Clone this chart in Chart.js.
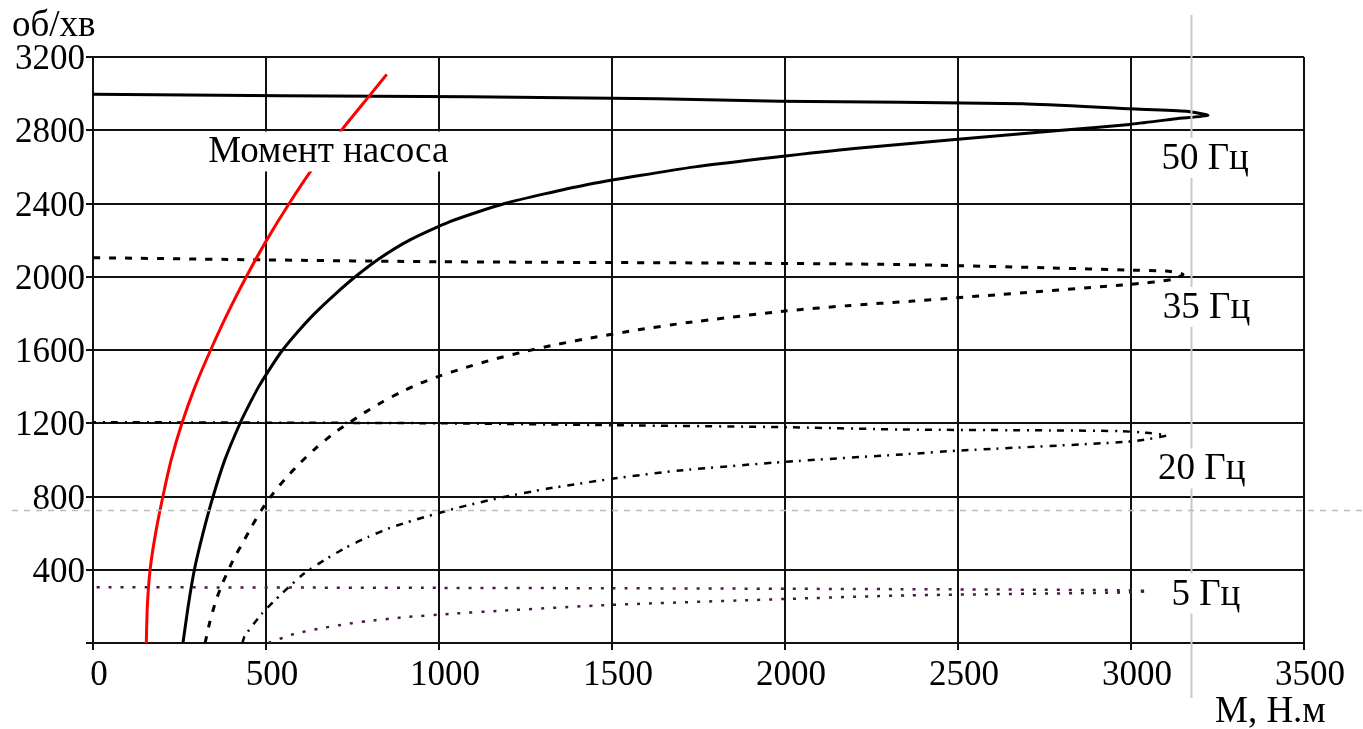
<!DOCTYPE html>
<html>
<head>
<meta charset="utf-8">
<title>Механічні характеристики</title>
<script src="https://cdn.jsdelivr.net/npm/chart.js@4"></script>
<style>
  body { margin: 0; background: #fff; }
  #wrap { width: 1363px; height: 729px; }
</style>
</head>
<body>
<div id="wrap"><canvas id="chart" width="1363" height="729"></canvas></div>
<script>
// Mechanical characteristics n(M) at different supply frequencies + pump torque

// axes
const xTicks = [0, 500, 1000, 1500, 2000, 2500, 3000, 3500];
const yTicks = [0, 400, 800, 1200, 1600, 2000, 2400, 2800, 3200];

// 50 Hz (solid)
const torque50 = [260, 275, 293, 318, 347, 381, 425, 451, 479, 512, 548, 592, 641, 697, 758, 828, 915, 1030, 1190, 1420, 1740, 2200, 2800, 2996, 3131, 3222, 3160, 2996, 2687, 1985, 1633, 1090, 546, 0];
const speed50  = [0, 200, 400, 600, 800, 1000, 1200, 1300, 1400, 1500, 1600, 1700, 1800, 1900, 2000, 2100, 2200, 2300, 2400, 2500, 2600, 2700, 2800, 2832, 2863, 2881, 2904, 2917, 2945, 2959, 2972, 2983, 2988, 2996];

// 35 Hz (dashed)
const torque35 = [324, 337, 355, 375, 392, 408, 433, 459, 488, 522, 558, 599, 645, 695, 738, 782, 835, 890, 948, 1005, 1070, 1150, 1245, 1340, 1450, 1575, 1720, 1995, 2180, 2370, 2496, 2996, 3120, 3150, 3102, 2996, 2756, 2332, 1800, 1000, 500, 0];
const speed35  = [0, 110, 230, 330, 400, 465, 547, 638, 729, 820, 902, 984, 1066, 1144, 1200, 1255, 1315, 1370, 1420, 1460, 1500, 1545, 1590, 1630, 1670, 1710, 1750, 1812, 1842, 1867, 1885, 1958, 1985, 2013, 2031, 2036, 2049, 2067, 2075, 2082, 2092, 2104];

// 20 Hz (dash-dot)
const torque20 = [432, 438, 488, 546, 607, 668, 732, 796, 861, 926, 989, 1051, 1119, 1181, 1311, 1504, 1696, 2005, 2341, 2496, 2996, 3102, 3044, 2967, 2765, 2332, 1985, 1465, 1000, 0];
const speed20  = [0, 37, 160, 270, 375, 452, 522, 580, 630, 670, 704, 737, 768, 795, 842, 898, 942, 990, 1030, 1050, 1100, 1133, 1148, 1157, 1161, 1166, 1179, 1190, 1200, 1206];

// 5 Hz (dotted)
const torque5 = [507, 579, 652, 724, 791, 897, 1037, 1176, 1494, 1995, 2350, 2996, 3050, 2996, 2332, 1500, 1000, 0];
const speed5  = [0, 48, 78, 101, 119, 140, 160, 176, 208, 240, 260, 276, 283, 288, 294, 299, 301, 305];

// pump torque (red)
const torquePump = [154, 157, 165, 181, 202, 226, 257, 295, 340, 389, 443, 502, 567, 638, 718, 804, 849];
const speedPump  = [0, 200, 400, 600, 800, 1000, 1200, 1400, 1600, 1800, 2000, 2200, 2400, 2600, 2800, 3000, 3105];

const toPoints = (xs, ys) => xs.map((x, i) => ({ x: x, y: ys[i] }));

const serif = '"Liberation Serif", "Times New Roman", serif';

// text labels in data coordinates (left edge, baseline)
const notes = [
    { text: 'Момент насоса', x: 333, y: 2624 },
    { text: '50 Гц', x: 3088, y: 2589 },
    { text: '35 Гц', x: 3092, y: 1775 },
    { text: '20 Гц', x: 3078, y: 893 },
    { text: '5 Гц', x: 3117, y: 210 }
];
const cursorX = 3172;
const cursorY = 725;

const overlay = {
    id: 'overlay',
    afterDatasetsDraw(chart) {
        const ctx = chart.ctx;
        const xs = chart.scales.x;
        const ys = chart.scales.y;
        ctx.save();

        // grey cursor lines
        const cx = Math.round(xs.getPixelForValue(cursorX)) + 0.5;
        ctx.strokeStyle = '#c8c8c8';
        ctx.lineWidth = 2;
        ctx.beginPath();
        ctx.moveTo(cx, 15);
        ctx.lineTo(cx, 698);
        ctx.stroke();

        const cy = Math.round(ys.getPixelForValue(cursorY)) + 0.5;
        ctx.strokeStyle = '#bdbdbd';
        ctx.lineWidth = 1.5;
        ctx.setLineDash([6, 6]);
        ctx.beginPath();
        ctx.moveTo(12, cy);
        ctx.lineTo(1363, cy);
        ctx.stroke();
        ctx.setLineDash([]);

        // annotations on white boxes
        ctx.font = '37px ' + serif;
        ctx.textBaseline = 'alphabetic';
        ctx.textAlign = 'left';
        notes.forEach(n => {
            const px = xs.getPixelForValue(n.x);
            const py = ys.getPixelForValue(n.y);
            const w = ctx.measureText(n.text).width;
            ctx.fillStyle = '#fff';
            ctx.fillRect(px - 2, py - 31, w + 4, 40);
            ctx.fillStyle = '#000';
            ctx.fillText(n.text, px, py);
        });

        // axis titles
        ctx.fillText('об/хв', 12, 36);
        ctx.fillText('М, Н.м', 1215, 722);
        ctx.restore();
    }
};

const ctx = document.getElementById('chart').getContext('2d');
new Chart(ctx, {
    type: 'scatter',
    data: {
        datasets: [
            {
                label: 'Момент насоса',
                data: toPoints(torquePump, speedPump),
                borderColor: '#ff0000',
                borderWidth: 3
            },
            {
                label: '50 Гц',
                data: toPoints(torque50, speed50),
                borderColor: '#000',
                borderWidth: 3
            },
            {
                label: '35 Гц',
                data: toPoints(torque35, speed35),
                borderColor: '#000',
                borderWidth: 3,
                borderDash: [7, 9]
            },
            {
                label: '20 Гц',
                data: toPoints(torque20, speed20),
                borderColor: '#000',
                borderWidth: 2.5,
                borderDash: [7, 6, 2, 7]
            },
            {
                label: '5 Гц',
                data: toPoints(torque5, speed5),
                borderColor: '#4b144b',
                borderWidth: 2.5,
                borderDash: [3, 9]
            }
        ].map(d => Object.assign(d, { showLine: true, pointRadius: 0, tension: 0.2, fill: false }))
    },
    options: {
        responsive: false,
        animation: false,
        devicePixelRatio: 1,
        layout: { padding: { top: 57, right: 59, bottom: 0, left: 0 } },
        plugins: {
            legend: { display: false },
            tooltip: { enabled: false }
        },
        scales: {
            x: {
                type: 'linear',
                min: 0,
                max: 3500,
                afterBuildTicks: s => { s.ticks = xTicks.map(v => ({ value: v })); },
                afterFit: s => { s.height = 86; },
                grid: { color: '#111', lineWidth: 2, tickLength: 7 },
                border: { color: '#111', width: 2 },
                ticks: {
                    color: '#000',
                    font: { family: serif, size: 35 },
                    padding: 5,
                    labelOffset: 6,
                    maxRotation: 0,
                    callback: v => String(v)
                }
            },
            y: {
                type: 'linear',
                min: 0,
                max: 3200,
                afterBuildTicks: s => { s.ticks = yTicks.map(v => ({ value: v })); },
                afterFit: s => { s.width = 93; },
                grid: { color: '#111', lineWidth: 2, tickLength: 7 },
                border: { color: '#111', width: 2 },
                ticks: {
                    color: '#000',
                    font: { family: serif, size: 35 },
                    padding: 1,
                    labelOffset: 3,
                    callback: v => (v === 0 ? '' : String(v))
                }
            }
        }
    },
    plugins: [overlay]
});
</script>
</body>
</html>
